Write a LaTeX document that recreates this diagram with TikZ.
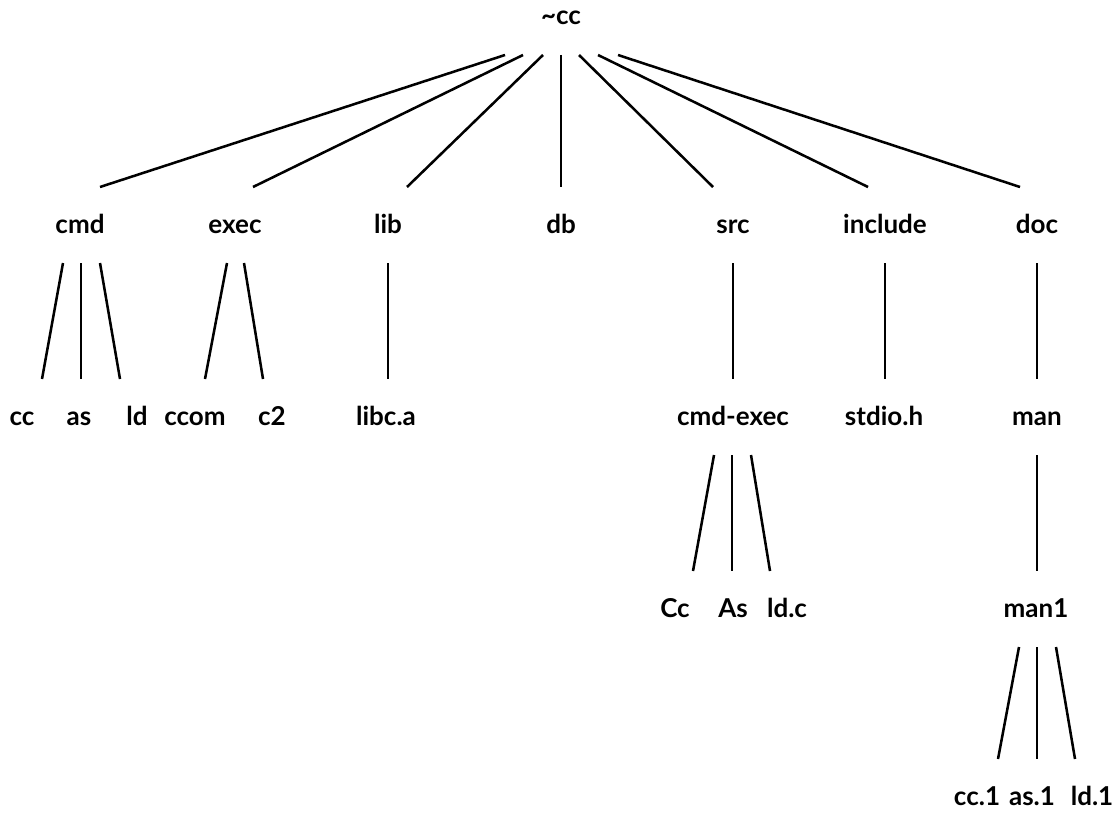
\documentclass[tikz,border=0pt]{standalone}
\usepackage{fontspec}
\setmainfont{Lato}
\usepackage{tikz}
\usetikzlibrary{
	calc,
	positioning
}
\tikzset{every path/.append style={line width=1.9pt}}
\tikzset{
	file/.style={anchor=base,inner xsep=0pt,inner ysep=0pt,outer xsep=0pt,outer ysep=19.5pt,
		text height=15pt,text depth=3pt,font=\fontsize{19.5}{22}\selectfont\bfseries}
}
\newcommand{\tikzFile}[3]{\node (#2) at #1 [file]{#3};}
\newcommand{\tikzEdge}[4]{\draw ($(#1.south)+(#2,0)$) -- ($(#3.north)+(#4,0)$);}

\begin{document}
\begin{tikzpicture}[x=0.75pt,y=-0.75pt]
	\useasboundingbox (0,0) rectangle (1119,813);
	
	\tikzFile{(561,25)}{root}{\textasciitilde cc}
	
	% first level
	\tikzFile{(80,233)}{cmd}{cmd}
	\tikzFile{(235,233)}{exec}{exec}
	\tikzFile{(388,233)}{lib}{lib}
	\tikzFile{(561,233)}{db}{db}
	\tikzFile{(733,233)}{src}{src}
	\tikzFile{(885,233)}{include}{include}
	\tikzFile{(1037,233)}{doc}{doc}
	
	\tikzEdge{root}{-56}{cmd}{20}
	\tikzEdge{root}{-38}{exec}{18}
	\tikzEdge{root}{-18}{lib}{19}
	\tikzEdge{root}{0}{db}{0}
	\tikzEdge{root}{18}{src}{-20}
	\tikzEdge{root}{37}{include}{-17}
	\tikzEdge{root}{57}{doc}{-17}
	
	% second level
	\tikzFile{(22,425)}{cc}{cc}
	\tikzFile{(79,425)}{as}{as}
	\tikzFile{(137,425)}{ld}{ld}
	\tikzFile{(195,425)}{ccom}{ccom}
	\tikzFile{(272,425)}{ctwo}{c2}
	\tikzFile{(386,425)}{libca}{libc.a}
	\tikzFile{(733,425)}{cmdexec}{cmd-exec}
	\tikzFile{(884,425)}{stdioh}{stdio.h}
	\tikzFile{(1037,425)}{man}{man}
	
	\tikzEdge{cmd}{-17}{cc}{20}
	\tikzEdge{cmd}{1}{as}{2}
	\tikzEdge{cmd}{20}{ld}{-17}
	\tikzEdge{exec}{-8}{ccom}{10}
	\tikzEdge{exec}{9}{ctwo}{-9}
	\tikzEdge{lib}{0}{libca}{2}
	\tikzEdge{src}{0}{cmdexec}{0}
	\tikzEdge{include}{0}{stdioh}{1}
	\tikzEdge{doc}{0}{man}{0}
	
	% third level
	\tikzFile{(675,617)}{scc}{Cc}
	\tikzFile{(733,617)}{sas}{As}
	\tikzFile{(787,617)}{sld}{ld.c}
	\tikzFile{(1036,617)}{manone}{man1}
	
	\tikzEdge{cmdexec}{-19}{scc}{18}
	\tikzEdge{cmdexec}{-1}{sas}{-1}
	\tikzEdge{cmdexec}{18}{sld}{-17}
	\tikzEdge{man}{0}{manone}{1}
	
	% fourth level
	\tikzFile{(977,805)}{mcc}{cc.1}
	\tikzFile{(1032,805)}{mas}{as.1}
	\tikzFile{(1092,805)}{mld}{ld.1}
	
	\tikzEdge{manone}{-17}{mcc}{21}
	\tikzEdge{manone}{1}{mas}{5}
	\tikzEdge{manone}{20}{mld}{-17}
\end{tikzpicture}
\end{document}
